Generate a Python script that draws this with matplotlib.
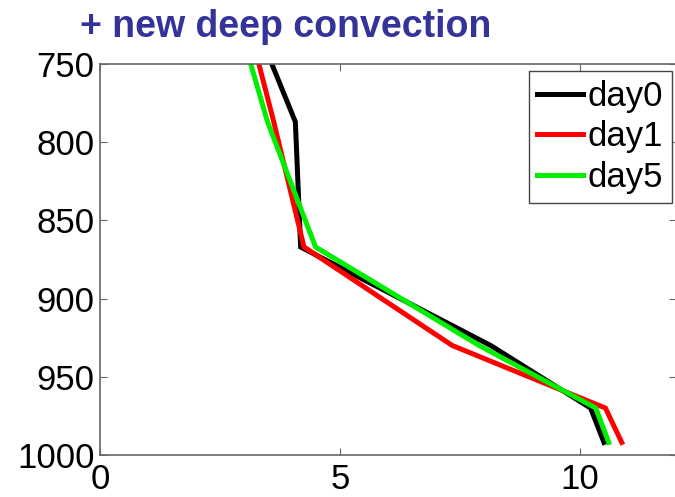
import matplotlib
matplotlib.use("Agg")
import matplotlib.pyplot as plt

# pressure levels (hPa) and profiles
levels = [750, 787, 867, 930, 970, 992]
day0 = [3.58, 4.07, 4.18, 8.14, 10.22, 10.50]
day1 = [3.31, 3.62, 4.25, 7.34, 10.53, 10.87]
day5 = [3.14, 3.49, 4.49, 7.90, 10.33, 10.60]

series = [("day0", day0, "black"), ("day1", day1, "#ff0000"), ("day5", day5, "#00ee00")]

plt.rcParams['font.family'] = ['Liberation Sans', 'DejaVu Sans']

fig = plt.figure(figsize=(6.75, 4.97), dpi=100)
ax = fig.add_axes([100/675, 1-455/497, 576/675, 391/497])

for name, vals, col in series:
    ax.plot(vals, levels, color=col, lw=3.6, label=name, solid_joinstyle='miter')

ax.set_xlim(0, 12)
ax.set_ylim(1000, 750)
ax.set_xticks([0, 5, 10])
ax.set_yticks([750, 800, 850, 900, 950, 1000])
ax.tick_params(direction='in', length=5, width=0.8, color='#666666',
               top=True, right=True, labelsize=25)
ax.tick_params(axis='x', pad=6)
ax.tick_params(axis='y', pad=4)
for s in ax.spines.values():
    s.set_color('#666666')
    s.set_linewidth(1.2)

leg = ax.legend(loc='upper right', bbox_to_anchor=(672/675, 1-71/497),
                bbox_transform=fig.transFigure, borderaxespad=0,
                fontsize=25, handlelength=1.3, handletextpad=0.15,
                labelspacing=0.22, borderpad=0.25, fancybox=False,
                framealpha=1)
leg.get_frame().set_edgecolor('#444444')
leg.get_frame().set_linewidth(1.0)

fig.text(286/675, 1-37/497, "+ new deep convection", ha='center', va='baseline',
         fontsize=27, fontweight='bold', color='#333399')

fig.savefig("out.png", dpi=100)
